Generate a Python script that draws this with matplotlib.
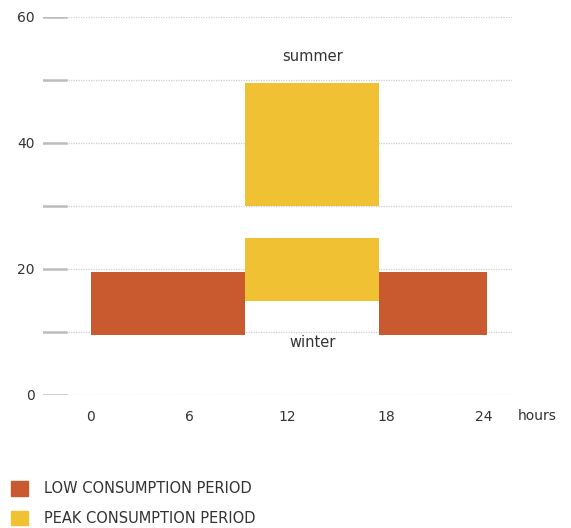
import matplotlib
matplotlib.use("Agg")
import matplotlib.pyplot as plt
from matplotlib.patches import Patch

plt.rcParams['font.family'] = ['DejaVu Sans']

# Data (hours and consumption values)
low_start = [0, 17.6]
low_end = [9.4, 24.2]
low_bottom = [9.5, 9.5]
low_top = [19.5, 19.5]

peak_start = [9.4, 9.4]
peak_end = [17.6, 17.6]
peak_bottom = [30, 15]
peak_top = [49.5, 25]

season_labels = ["summer", "winter"]
season_x = [13.5, 13.5]
season_y = [53.8, 8.3]

x_ticks = [0, 6, 12, 18, 24]
y_ticks = [0, 20, 40, 60]
y_grid = [0, 10, 20, 30, 40, 50, 60]
legend_labels = ["LOW CONSUMPTION PERIOD", "PEAK CONSUMPTION PERIOD"]

low_color = "#C9592E"
peak_color = "#F0C133"
text_color = "#333333"

fig = plt.figure(figsize=(5.71, 5.28), dpi=100)
W, H = 571, 528
ax = fig.add_axes([43 / W, 1 - 395 / H, (512 - 43) / W, (395 - 17) / H])
ax.set_xlim(-2.93, 25.7)
ax.set_ylim(0, 60)

for yv in y_grid:
    ax.axhline(yv, color="#cfcfcf", lw=0.9, ls=(0, (1, 1)), zorder=0)
    ax.axhline(yv, xmin=0, xmax=23 / 469, color="#bdbdbd", lw=1.8, zorder=1)

ax.bar(low_start, [t - b for t, b in zip(low_top, low_bottom)],
       width=[e - s for s, e in zip(low_start, low_end)], bottom=low_bottom,
       align="edge", color=low_color, zorder=2)
ax.bar(peak_start, [t - b for t, b in zip(peak_top, peak_bottom)],
       width=[e - s for s, e in zip(peak_start, peak_end)], bottom=peak_bottom,
       align="edge", color=peak_color, zorder=2)

for lab, xv, yv in zip(season_labels, season_x, season_y):
    ax.text(xv, yv, lab, ha="center", va="center", fontsize=10.5, color=text_color, zorder=3)

ax.set_xticks(x_ticks)
ax.set_xticklabels([str(v) for v in x_ticks])
ax.set_yticks(y_ticks)
ax.set_yticklabels([str(v) for v in y_ticks])
ax.tick_params(axis="both", length=0, labelsize=10, colors=text_color)
ax.tick_params(axis="y", pad=6)
ax.tick_params(axis="x", pad=11)
for s in ax.spines.values():
    s.set_visible(False)

fig.text(537 / W, 1 - 416 / H, "hours", ha="center", va="center",
         fontsize=10, color=text_color)

handles = [Patch(color=low_color), Patch(color=peak_color)]
leg = fig.legend(handles, legend_labels, loc="upper left",
                 bbox_to_anchor=(-2 / W, 1 - 468 / H), frameon=False,
                 handlelength=1.15, handleheight=1.15, handletextpad=1.1,
                 labelspacing=0.98, fontsize=10.5, labelcolor=text_color)

fig.savefig("out.png", dpi=100)
